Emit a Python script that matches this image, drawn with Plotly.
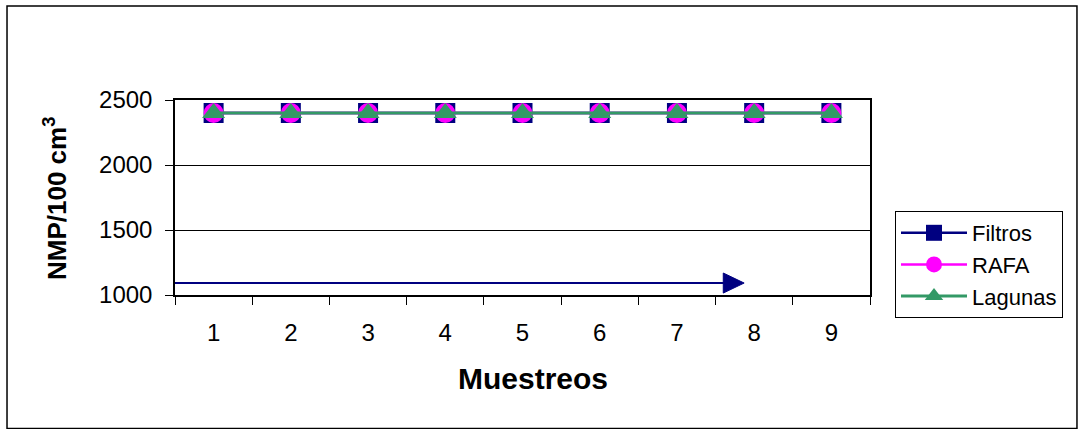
import plotly.graph_objects as go

muestreos = [1, 2, 3, 4, 5, 6, 7, 8, 9]
filtros = [2400, 2400, 2400, 2400, 2400, 2400, 2400, 2400, 2400]
rafa = [2400, 2400, 2400, 2400, 2400, 2400, 2400, 2400, 2400]
lagunas = [2400, 2400, 2400, 2400, 2400, 2400, 2400, 2400, 2400]
y_ticks = [1000, 1500, 2000, 2500]

FONT = "Liberation Sans, Arial, sans-serif"

fig = go.Figure()
fig.add_trace(go.Scatter(x=muestreos, y=filtros, name="Filtros", mode="lines+markers",
                         line=dict(color="#000080", width=2.5),
                         marker=dict(symbol="square", size=20, color="#000080")))
fig.add_trace(go.Scatter(x=muestreos, y=rafa, name="RAFA", mode="lines+markers",
                         line=dict(color="#FF00FF", width=2.5),
                         marker=dict(symbol="circle", size=20, color="#FF00FF")))
fig.add_trace(go.Scatter(x=muestreos, y=lagunas, name="Lagunas", mode="lines+markers",
                         line=dict(color="#339966", width=3),
                         marker=dict(symbol="triangle-up", size=20, color="#339966")))

# arrow (line + head) in data coordinates
fig.add_shape(type="line", xref="x", yref="y", x0=0.4, x1=7.65, y0=1092, y1=1092,
              line=dict(color="#000080", width=2))
fig.add_shape(type="path", xref="x", yref="y",
              path="M 7.6 1169 L 7.87 1092 L 7.6 1015 Z",
              fillcolor="#000080", line=dict(color="#000080", width=1))

# outer border
fig.add_shape(type="rect", xref="paper", yref="paper",
              x0=-0.2417, x1=1.2978, y0=-0.685, y1=1.482,
              line=dict(color="#000000", width=1.5), layer="below")

fig.add_annotation(text="<b>NMP/100 cm<sup>3</sup></b>", xref="paper", yref="paper",
                   x=(55 - 175) / 695, y=(295 - 199) / 195, textangle=-90,
                   showarrow=False, font=dict(family=FONT, size=26, color="#000000"),
                   xanchor="center", yanchor="middle")
fig.add_annotation(text="<b>Muestreos</b>", xref="paper", yref="paper",
                   x=(533 - 175) / 695, y=(295 - 378) / 195,
                   showarrow=False, font=dict(family=FONT, size=30, color="#000000"),
                   xanchor="center", yanchor="middle")

fig.update_layout(
    width=1079, height=429,
    margin=dict(l=175, r=209, t=100, b=134),
    plot_bgcolor="#FFFFFF", paper_bgcolor="#FFFFFF",
    font=dict(family=FONT, color="#000000"),
    showlegend=True,
    legend=dict(x=(895 - 175) / 695, y=(295 - 211) / 195, xanchor="left", yanchor="top",
                bordercolor="#000000", borderwidth=1, bgcolor="#FFFFFF",
                font=dict(family=FONT, size=22), itemwidth=66,
                tracegroupgap=0),
    xaxis=dict(range=[0.5, 9.5], tickvals=muestreos, ticktext=[str(m) for m in muestreos],
               ticks="", showgrid=False, zeroline=False,
               showline=True, linecolor="#000000", linewidth=1.5, mirror=True,
               tickfont=dict(family=FONT, size=24),
               ticklabelstandoff=15,
               minor=dict(ticks="outside", tick0=0.5, dtick=1, ticklen=8,
                          tickcolor="#000000", tickwidth=1, showgrid=False)),
    yaxis=dict(range=[1000, 2500], tickvals=y_ticks, ticks="outside", ticklen=8,
               tickcolor="#000000", showgrid=True, gridcolor="#000000", gridwidth=1,
               zeroline=False, showline=True, linecolor="#000000", linewidth=1.5,
               mirror=True, tickfont=dict(family=FONT, size=24),
               ticklabelstandoff=8),
)

fig.write_html("out.html")
